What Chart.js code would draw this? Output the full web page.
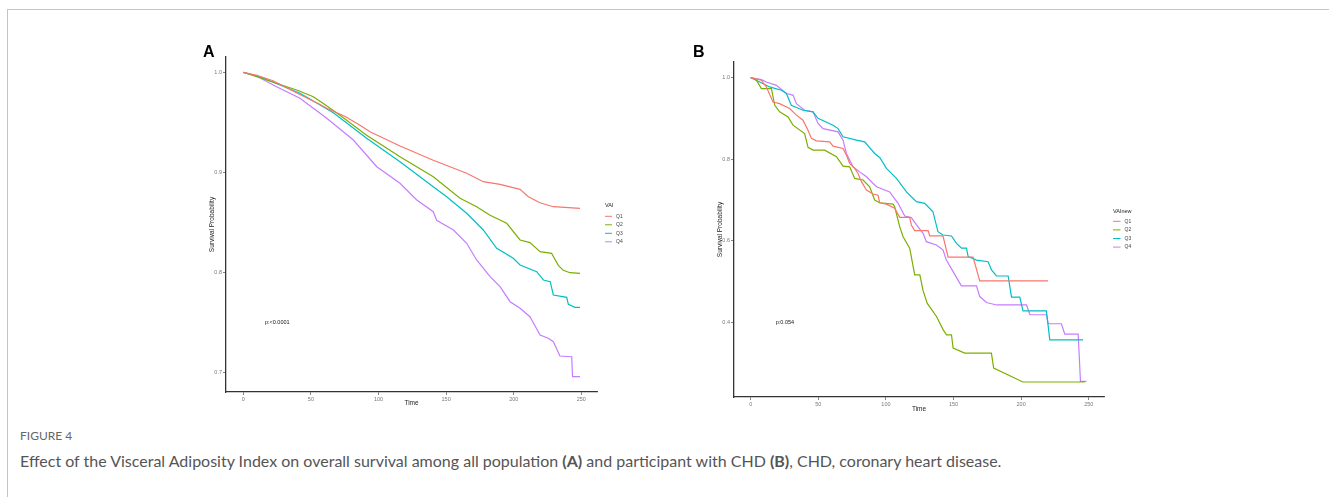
<!DOCTYPE html>
<html><head><meta charset="utf-8">
<script src="https://cdn.jsdelivr.net/npm/chart.js@4.4.0/dist/chart.umd.min.js"></script>
<style>
html,body{margin:0;padding:0;background:#fff;width:1329px;height:497px;overflow:hidden;position:relative;}
#frame{position:absolute;left:7px;top:9px;width:1340px;height:520px;border-top:1px solid #c4c4c4;border-left:1px solid #c4c4c4;}
canvas{position:absolute;}
#cA{left:190px;top:40px;}
#cB{left:680px;top:40px;}
#figlab{position:absolute;left:20px;top:428px;font-family:Lato,'Open Sans',sans-serif;font-size:12px;color:#666;}
#caption{position:absolute;left:20px;top:451px;font-family:Lato,'Open Sans',sans-serif;font-size:16px;color:#555;white-space:nowrap;}
#caption b{color:#555;}
</style></head>
<body>
<div id="frame"></div>
<canvas id="cA" width="480" height="380"></canvas>
<canvas id="cB" width="480" height="380"></canvas>
<div id="figlab">FIGURE 4</div>
<div id="caption">Effect of the Visceral Adiposity Index on overall survival among all population <b>(A)</b> and participant with CHD <b>(B)</b>, CHD, coronary heart disease.</div>
<script>
const groups = ['Q1','Q2','Q3','Q4'];
const colors = ['#F8766D','#7CAE00','#00BFC4','#C77CFF'];
const xTicks = [0,50,100,150,200,250];
const yTicksA = [0.7,0.8,0.9,1.0];
const yTicksB = [0.4,0.6,0.8,1.0];

// Panel A: all population (time, survival)
const A_Q1 = [[0,1],[10,0.997],[22,0.9916],[40,0.979],[55,0.969],[61.7,0.964],[75,0.956],[86.3,0.947],[93.7,0.9406],[115.9,0.9263],[140.5,0.912],[165.2,0.899],[177.5,0.8906],[189.9,0.888],[204.7,0.883],[210.8,0.8756],[219.5,0.8696],[229.3,0.8656],[249,0.864]];
const A_Q2 = [[0,1],[20,0.991],[40,0.982],[51.8,0.9756],[60,0.968],[71.5,0.957],[91.2,0.937],[115.9,0.9156],[140.5,0.8956],[160.3,0.874],[172.6,0.8656],[182.5,0.857],[194.8,0.849],[204.7,0.8323],[212,0.8297],[219.5,0.8206],[228,0.819],[233,0.807],[236.7,0.802],[241.6,0.7996],[249,0.799]];
const A_Q3 = [[0,1],[12.3,0.9956],[41.9,0.979],[66.6,0.9596],[91.2,0.934],[115.9,0.9106],[140.5,0.8856],[150.4,0.8756],[165.2,0.859],[177.5,0.8423],[187.4,0.824],[199.7,0.814],[204.7,0.8073],[217,0.8006],[222,0.7923],[227,0.7906],[229.3,0.7773],[239.2,0.775],[240.4,0.768],[245.3,0.765],[249,0.765]];
const A_Q4 = [[0,1],[10,0.996],[24.6,0.9856],[41.9,0.974],[61.7,0.954],[81.4,0.9323],[98.7,0.9056],[115.9,0.889],[128.3,0.8723],[140.5,0.8606],[143,0.852],[155.4,0.8423],[165.2,0.829],[172.6,0.8123],[182.5,0.7956],[189.9,0.7856],[197.3,0.7706],[204.7,0.764],[212,0.7556],[215.8,0.7463],[219.5,0.7373],[225.6,0.734],[229.3,0.7306],[234.2,0.7163],[242.9,0.7156],[243.5,0.6956],[249,0.6956]];

// Panel B: participants with CHD
const B_Q1 = [[0,1],[7.9,0.9934],[11.6,0.977],[16.5,0.94],[21.4,0.936],[28.8,0.924],[33.8,0.908],[38.7,0.8956],[42.4,0.871],[44.9,0.851],[48.6,0.845],[58.4,0.8425],[60.9,0.832],[68.3,0.8264],[70.8,0.81],[73.2,0.79],[76.9,0.7775],[79.4,0.765],[81.9,0.745],[85.6,0.7245],[90.5,0.7147],[94.2,0.712],[95.4,0.6934],[100.3,0.69],[106.5,0.68],[110.2,0.6577],[117.6,0.6577],[118.8,0.639],[121.3,0.625],[131.2,0.625],[132.4,0.612],[142.2,0.612],[146,0.56],[164.5,0.56],[169.4,0.502],[219.9,0.502]];
const B_Q2 = [[0,1],[4.2,0.9934],[7.9,0.973],[15.3,0.973],[17.8,0.932],[21.4,0.916],[27.6,0.9037],[31.3,0.8834],[39.9,0.863],[42.4,0.829],[46.1,0.8222],[54.7,0.8222],[63.4,0.806],[68.3,0.783],[73.2,0.7814],[76.9,0.753],[83.1,0.749],[88,0.7326],[91.7,0.70],[95.4,0.6934],[105.3,0.69],[106.5,0.6836],[110.2,0.635],[112.7,0.61],[117.6,0.582],[121.3,0.5166],[125.1,0.5166],[127.5,0.478],[130.5,0.4474],[137.4,0.4147],[142.4,0.382],[144.8,0.37],[148.5,0.37],[149.7,0.3374],[158.3,0.325],[178,0.325],[179.7,0.2885],[201.3,0.2543],[247,0.2543]];
const B_Q3 = [[0,1],[14,0.977],[22.7,0.969],[26.4,0.961],[30,0.932],[38.7,0.92],[46.1,0.916],[49.8,0.90],[60.9,0.8834],[64.6,0.875],[68.3,0.855],[78.2,0.8467],[84.3,0.8425],[91.7,0.814],[95.4,0.8044],[100.4,0.7775],[107.8,0.753],[115.2,0.72],[122.6,0.696],[128.7,0.692],[134.8,0.6714],[138.5,0.6225],[142.2,0.6144],[148.5,0.612],[152.2,0.594],[155.9,0.582],[159.6,0.582],[160.8,0.5614],[167,0.553],[175.6,0.549],[178.1,0.529],[181.8,0.514],[190.4,0.514],[192.9,0.462],[199,0.462],[201.4,0.4286],[218.7,0.4286],[221.2,0.3577],[245.8,0.3577]];
const B_Q4 = [[0,1],[7.9,0.995],[11.6,0.989],[19,0.981],[26.4,0.961],[31.3,0.957],[33.8,0.936],[39.9,0.92],[46.1,0.916],[49.8,0.8875],[53.5,0.875],[64.6,0.867],[68.3,0.8467],[70.8,0.814],[75.7,0.7814],[80.6,0.769],[85.6,0.757],[93,0.7326],[102.8,0.72],[109,0.692],[113.9,0.661],[118.8,0.657],[122.6,0.639],[127.5,0.6186],[129.9,0.598],[137.3,0.59],[142.2,0.578],[144.7,0.553],[149.7,0.5247],[155.8,0.49],[167,0.49],[169.4,0.4636],[174.4,0.449],[181.8,0.443],[204,0.443],[206.5,0.419],[218.8,0.419],[220,0.397],[229.8,0.397],[232.3,0.3717],[242.2,0.3717],[243.9,0.2557],[248.3,0.2557]];

const annotPlugin = {
  id:'annot',
  afterDraw(chart, args, o){
    const ctx = chart.ctx, ca = chart.chartArea, sx = chart.scales.x, sy = chart.scales.y;
    ctx.save();
    ctx.fillStyle = '#000';
    ctx.font = 'bold 16px "Liberation Sans", Arial, sans-serif';
    ctx.textBaseline = 'middle'; ctx.textAlign = 'left';
    ctx.fillText(o.letter, o.letterX, o.letterY);
    ctx.font = '6.5px "Liberation Sans", Arial, sans-serif';
    ctx.fillStyle = '#222';
    ctx.save();
    ctx.translate(o.yTitleX, (ca.top+ca.bottom)/2);
    ctx.rotate(-Math.PI/2);
    ctx.textAlign = 'center'; ctx.textBaseline = 'middle';
    ctx.fillText('Survival Probability', 0, 0);
    ctx.restore();
    ctx.font = '6.5px "Liberation Sans", Arial, sans-serif';
    ctx.textAlign = 'center'; ctx.textBaseline = 'middle';
    ctx.fillText('Time', (ca.left+ca.right)/2, o.xTitleY);
    ctx.font = '5.5px "Liberation Sans", Arial, sans-serif';
    ctx.textAlign = 'left';
    ctx.fillStyle = '#111';
    ctx.fillText(o.pText, sx.getPixelForValue(o.pT), sy.getPixelForValue(o.pV));
    ctx.fillStyle = '#222';
    ctx.font = '5.5px "Liberation Sans", Arial, sans-serif';
    ctx.fillText(o.legTitle, o.legX, o.legY);
    ctx.font = '5px "Liberation Sans", Arial, sans-serif';
    chart.data.datasets.forEach((d,i)=>{
      const y = o.legY + o.legY0 + i*o.legStep;
      ctx.strokeStyle = d.borderColor; ctx.lineWidth = 1;
      ctx.beginPath(); ctx.moveTo(o.legX, y); ctx.lineTo(o.legX+o.legLen, y); ctx.stroke();
      ctx.fillStyle = '#444';
      ctx.fillText(d.label, o.legX+o.legLen+4, y);
    });
    ctx.restore();
  }
};

function makeChart(id, c){
  return new Chart(document.getElementById(id), {
    type:'line',
    data:{datasets:c.series.map((s,i)=>({label:groups[i], data:s.map(p=>({x:p[0],y:p[1]})), borderColor:colors[i], backgroundColor:colors[i], borderWidth:1.2, pointRadius:0, fill:false, tension:0}))},
    options:{
      responsive:false, animation:false, devicePixelRatio:1,
      layout:{padding:{left:0,right:c.padR,top:c.padT,bottom:0}},
      plugins:{legend:{display:false}, tooltip:{enabled:false}, annot:c.annot},
      scales:{
        x:{type:'linear', min:c.xMin, max:c.xMax,
          afterBuildTicks:s=>{s.ticks = xTicks.map(v=>({value:v}));},
          afterFit:s=>{s.height = c.xH;},
          grid:{display:true, drawOnChartArea:false, drawTicks:true, tickLength:3, color:'#666', lineWidth:0.8},
          border:{display:true, color:'#333', width:1.3},
          ticks:{font:{size:5.5, family:'"Liberation Sans", Arial'}, color:'#777', padding:1, maxRotation:0, autoSkip:false, callback:v=>String(v)}},
        y:{type:'linear', min:c.yMin, max:c.yMax,
          afterBuildTicks:s=>{s.ticks = c.yTicks.map(v=>({value:v}));},
          afterFit:s=>{s.width = c.yW;},
          grid:{display:true, drawOnChartArea:false, drawTicks:true, tickLength:3, color:'#666', lineWidth:0.8},
          border:{display:true, color:'#333', width:1.3},
          ticks:{font:{size:5.5, family:'"Liberation Sans", Arial'}, color:'#777', padding:1, autoSkip:false, callback:v=>Number(v).toFixed(1)}}
      }
    },
    plugins:[annotPlugin]
  });
}

makeChart('cA', {series:[A_Q1,A_Q2,A_Q3,A_Q4], xMin:-12.8, xMax:261.6, yMin:0.6803, yMax:1.0153, yTicks:yTicksA,
  yW:36, padR:73, padT:17, xH:28,
  annot:{letter:'A', letterX:13, letterY:12.5, yTitleX:22, xTitleY:363.5, pText:'p:<0.0001', pT:16, pV:0.75,
    legTitle:'VAI', legX:415, legY:165.5, legY0:10.8, legStep:8.5, legLen:7}});
makeChart('cB', {series:[B_Q1,B_Q2,B_Q3,B_Q4], xMin:-12.35, xMax:261.3, yMin:0.2176, yMax:1.0381, yTicks:yTicksB,
  yW:54, padR:56, padT:22, xH:23,
  annot:{letter:'B', letterX:13, letterY:12.5, yTitleX:40, xTitleY:369, pText:'p:0.054', pT:18.5, pV:0.399,
    legTitle:'VAInew', legX:433, legY:171, legY0:10.3, legStep:8.6, legLen:7.5}});
</script>
</body></html>
